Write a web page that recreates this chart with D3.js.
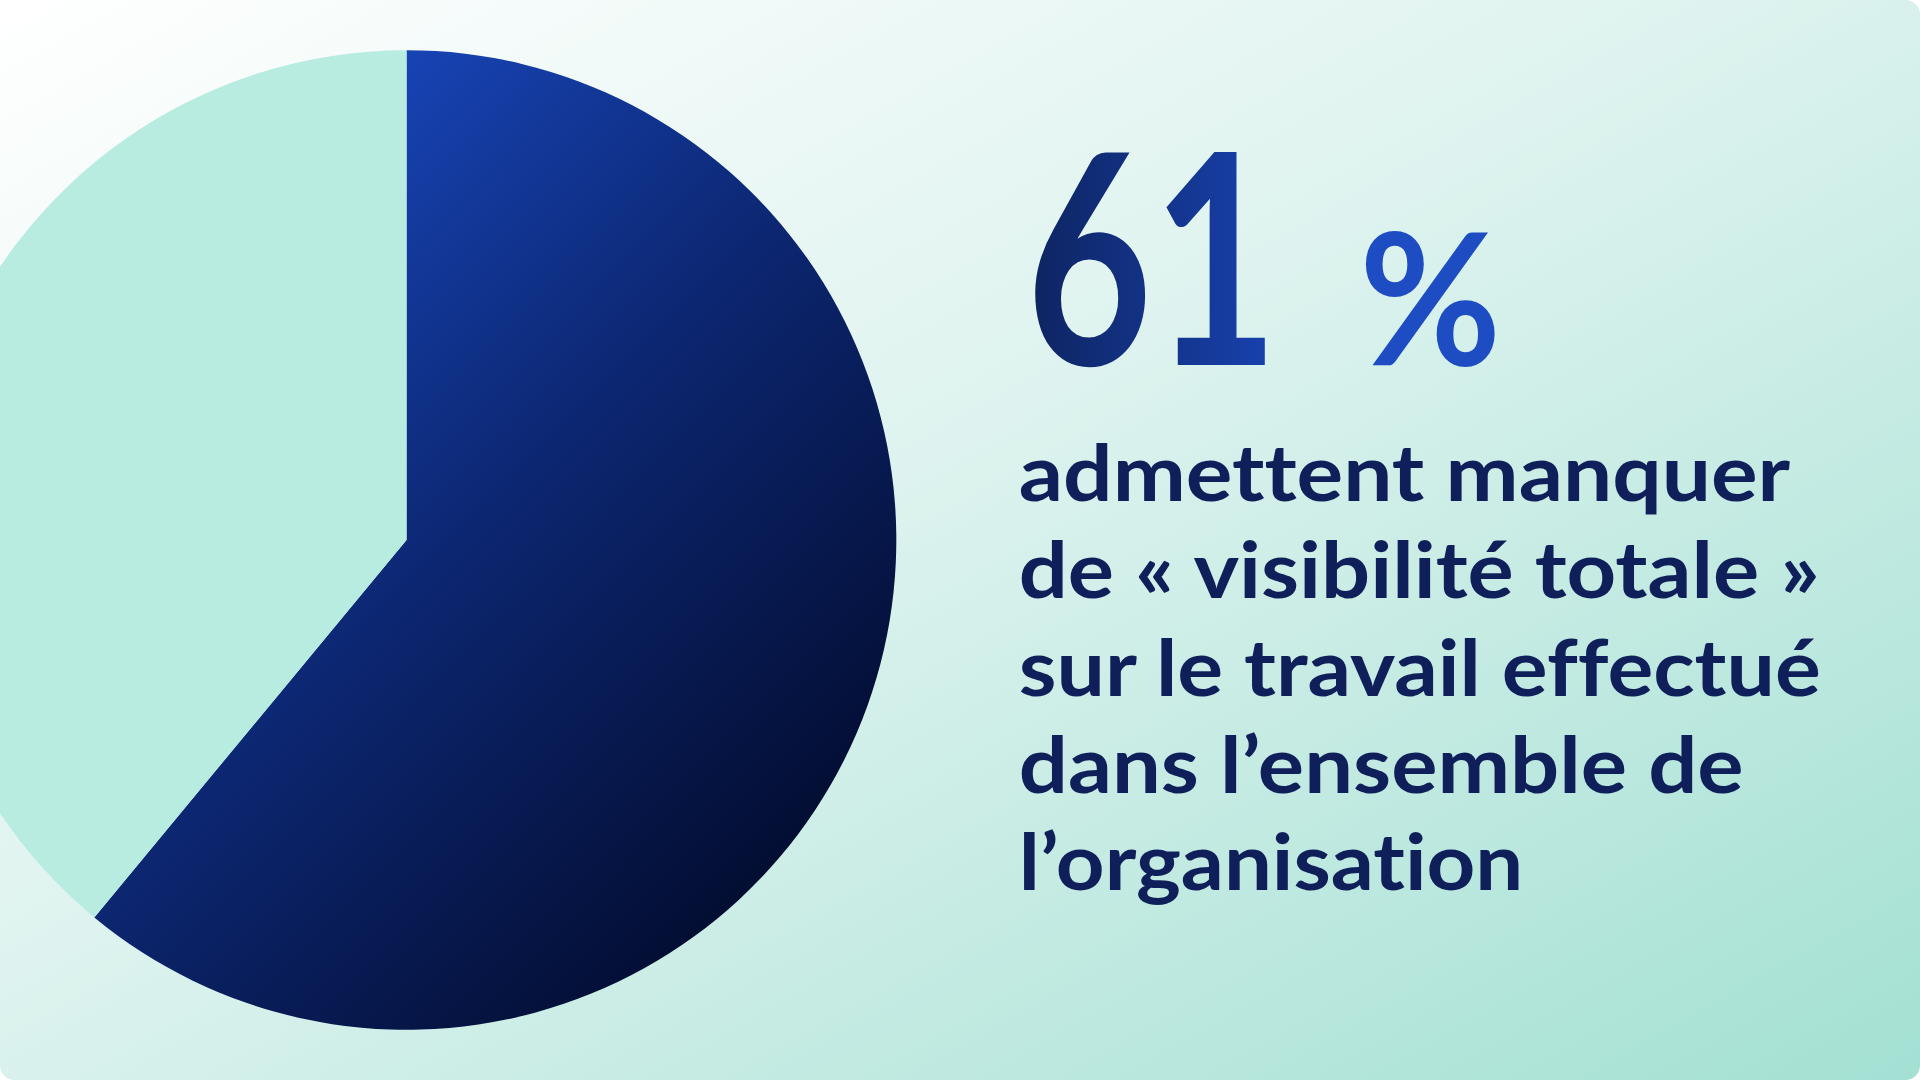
<!DOCTYPE html>
<html>
<head>
<meta charset="utf-8">
<script src="https://cdn.jsdelivr.net/npm/d3@7"></script>
<style>
  html, body { margin: 0; padding: 0; background: #ffffff; overflow: hidden; }
  text { font-variant-ligatures: none; font-feature-settings: "liga" 0; }
</style>
</head>
<body>
<div id="chart"></div>
<script>
// data
const categories = ['visibilité incomplète', 'autres'];
const values = [61, 39];
const headline = '61';
const unit = '%';
const captionLines = [
    'admettent manquer',
    'de « visibilité totale »',
    'sur le travail effectué',
    'dans l’ensemble de',
    'l’organisation'
];

// layout is drawn in reference units and scaled to the window
const W = 1568, H = 882;

const svg = d3.select('#chart')
    .append('svg')
    .attr('width', 1920)
    .attr('height', 1080)
    .attr('viewBox', `0 0 ${W} ${H}`);

const defs = svg.append('defs');

const bg = defs.append('linearGradient').attr('id', 'bg')
    .attr('x1', '0%').attr('y1', '0%').attr('x2', '100%').attr('y2', '100%');
bg.append('stop').attr('offset', '0%').attr('stop-color', '#ffffff');
bg.append('stop').attr('offset', '45%').attr('stop-color', '#def3ef');
bg.append('stop').attr('offset', '100%').attr('stop-color', '#a3e0d3');

const dark = defs.append('linearGradient').attr('id', 'dark')
    .attr('x1', '15%').attr('y1', '5%').attr('x2', '85%').attr('y2', '90%');
dark.append('stop').attr('offset', '0%').attr('stop-color', '#1a4bc6');
dark.append('stop').attr('offset', '50%').attr('stop-color', '#0c2670');
dark.append('stop').attr('offset', '100%').attr('stop-color', '#020b2c');

const numGrad = defs.append('linearGradient').attr('id', 'num')
    .attr('x1', '0%').attr('y1', '0%').attr('x2', '100%').attr('y2', '0%');
numGrad.append('stop').attr('offset', '0%').attr('stop-color', '#0e2460');
numGrad.append('stop').attr('offset', '100%').attr('stop-color', '#1842b0');

defs.append('clipPath').attr('id', 'card')
    .append('rect').attr('x', 0).attr('y', 0).attr('width', W).attr('height', H).attr('rx', 12);

const root = svg.append('g').attr('clip-path', 'url(#card)');

root.append('rect')
    .attr('width', W).attr('height', H)
    .attr('fill', 'url(#bg)');

// pie
const cx = 332, cy = 441, radius = 400;
const pie = d3.pie().sort(null).value(d => d);
const arc = d3.arc().innerRadius(0).outerRadius(radius);
const fills = ['url(#dark)', '#b8ece1'];

root.append('g')
    .attr('transform', `translate(${cx},${cy})`)
    .selectAll('path')
    .data(pie(values))
    .enter()
    .append('path')
    .attr('d', arc)
    .attr('fill', (d, i) => fills[i]);

// headline number
const font = "'Lato', 'Inter', sans-serif";
root.append('text')
    .attr('x', 838).attr('y', 298)
    .attr('font-family', font)
    .attr('font-weight', 700)
    .attr('font-size', 240)
    .attr('textLength', 206)
    .attr('lengthAdjust', 'spacingAndGlyphs')
    .attr('fill', 'url(#num)')
    .text(headline);

root.append('text')
    .attr('x', 1110).attr('y', 298)
    .attr('font-family', font)
    .attr('font-weight', 700)
    .attr('font-size', 150)
    .attr('textLength', 116)
    .attr('lengthAdjust', 'spacingAndGlyphs')
    .attr('fill', '#1e4cc2')
    .text(unit);

// caption
const lineWidths = [630, 654, 655, 592, 412];
root.append('g')
    .selectAll('text')
    .data(captionLines)
    .enter()
    .append('text')
    .attr('x', 832)
    .attr('y', (d, i) => 409 + i * 79.5)
    .attr('font-family', font)
    .attr('font-weight', 700)
    .attr('font-size', 64)
    .attr('textLength', (d, i) => lineWidths[i])
    .attr('lengthAdjust', 'spacingAndGlyphs')
    .attr('fill', '#0f1f5a')
    .text(d => d);
</script>
</body>
</html>
